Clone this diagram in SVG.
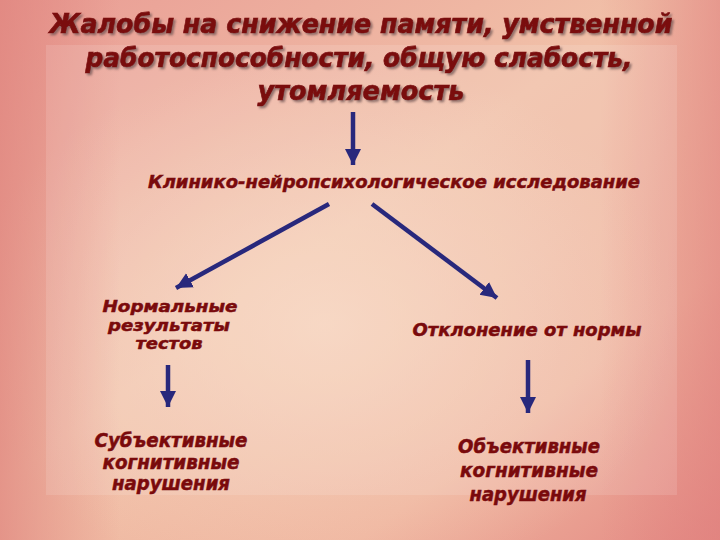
<svg xmlns="http://www.w3.org/2000/svg" width="720" height="540" viewBox="0 0 720 540">
<defs>
<linearGradient id="bg" x1="0" y1="0" x2="1" y2="1">
<stop offset="0" stop-color="#e99c94"/>
<stop offset="0.45" stop-color="#f1c0a8"/>
<stop offset="0.75" stop-color="#efb49e"/>
<stop offset="1" stop-color="#e48a84"/>
</linearGradient>
<radialGradient id="glow" cx="0.45" cy="0.6" r="0.5">
<stop offset="0" stop-color="#f8dac4" stop-opacity="0.75"/>
<stop offset="1" stop-color="#f8dac4" stop-opacity="0"/>
</radialGradient>
<linearGradient id="edgeL" x1="0" y1="0" x2="1" y2="0">
<stop offset="0" stop-color="#df827c" stop-opacity="0.7"/>
<stop offset="1" stop-color="#df827c" stop-opacity="0"/>
</linearGradient>
<linearGradient id="edgeR" x1="1" y1="0" x2="0" y2="0">
<stop offset="0" stop-color="#e0807e" stop-opacity="0.6"/>
<stop offset="1" stop-color="#e0807e" stop-opacity="0"/>
</linearGradient>
<marker id="ah" markerUnits="userSpaceOnUse" markerWidth="16" markerHeight="18" refX="16" refY="8" orient="auto">
<path d="M0,0 L16,8 L0,16 Z" fill="#28287c"/>
</marker>
<filter id="sh" x="-5%" y="-20%" width="110%" height="140%">
<feGaussianBlur in="SourceAlpha" stdDeviation="0.8"/>
<feOffset dx="2" dy="2" result="b"/>
<feFlood flood-color="#6a5050" flood-opacity="0.7"/>
<feComposite in2="b" operator="in"/>
<feMerge><feMergeNode/><feMergeNode in="SourceGraphic"/></feMerge>
</filter>
</defs>
<style>
.t{font-family:"DejaVu Sans",Verdana,sans-serif;font-weight:bold;font-style:italic;fill:#7a0a0c;stroke:#7a0a0c;stroke-width:0.5;text-anchor:middle}
.h{font-size:27px;stroke-width:0.7}
.m{font-size:18px}
.n{font-size:16px}
.s{font-size:19px}
.c{stroke:#28287c;stroke-width:4.5;fill:none;marker-end:url(#ah)}
</style>
<rect width="720" height="540" fill="url(#bg)"/>
<rect width="720" height="540" fill="url(#glow)"/>
<rect width="120" height="540" fill="url(#edgeL)"/>
<rect x="600" width="120" height="540" fill="url(#edgeR)"/>
<rect x="46" y="45" width="631" height="450" fill="#ffffff" fill-opacity="0.12"/>

<g id="title" filter="url(#sh)">
<text class="t h" x="361" y="33" textLength="623" lengthAdjust="spacingAndGlyphs">Жалобы на снижение памяти, умственной</text>
<text class="t h" x="359" y="67" textLength="547" lengthAdjust="spacingAndGlyphs">работоспособности, общую слабость,</text>
<text class="t h" x="361" y="100" textLength="207" lengthAdjust="spacingAndGlyphs">утомляемость</text>
</g>
<g id="exam">
<text class="t m" x="394" y="188" textLength="492" lengthAdjust="spacingAndGlyphs">Клинико-нейропсихологическое исследование</text>
</g>
<g id="normal">
<text class="t n" x="170" y="312" textLength="135" lengthAdjust="spacingAndGlyphs">Нормальные</text>
<text class="t n" x="169" y="330.5" textLength="122" lengthAdjust="spacingAndGlyphs">результаты</text>
<text class="t n" x="169" y="349" textLength="67" lengthAdjust="spacingAndGlyphs">тестов</text>
</g>
<g id="deviation">
<text class="t m" x="527" y="336" textLength="229" lengthAdjust="spacingAndGlyphs">Отклонение от нормы</text>
</g>
<g id="subjective">
<text class="t s" x="171" y="447" textLength="153" lengthAdjust="spacingAndGlyphs">Субъективные</text>
<text class="t s" x="171" y="469" textLength="137" lengthAdjust="spacingAndGlyphs">когнитивные</text>
<text class="t s" x="171" y="490" textLength="118" lengthAdjust="spacingAndGlyphs">нарушения</text>
</g>
<g id="objective">
<text class="t s" x="529" y="453" textLength="142" lengthAdjust="spacingAndGlyphs">Объективные</text>
<text class="t s" x="529" y="477" textLength="138" lengthAdjust="spacingAndGlyphs">когнитивные</text>
<text class="t s" x="528" y="501" textLength="117" lengthAdjust="spacingAndGlyphs">нарушения</text>
</g>
<g id="connectors">
<line class="c" x1="353" y1="112" x2="353" y2="165"/>
<line class="c" x1="329" y1="204" x2="176" y2="288"/>
<line class="c" x1="372" y1="204" x2="497" y2="298"/>
<line class="c" x1="168" y1="365" x2="168" y2="407"/>
<line class="c" x1="528" y1="360" x2="528" y2="413"/>
</g>
</svg>
